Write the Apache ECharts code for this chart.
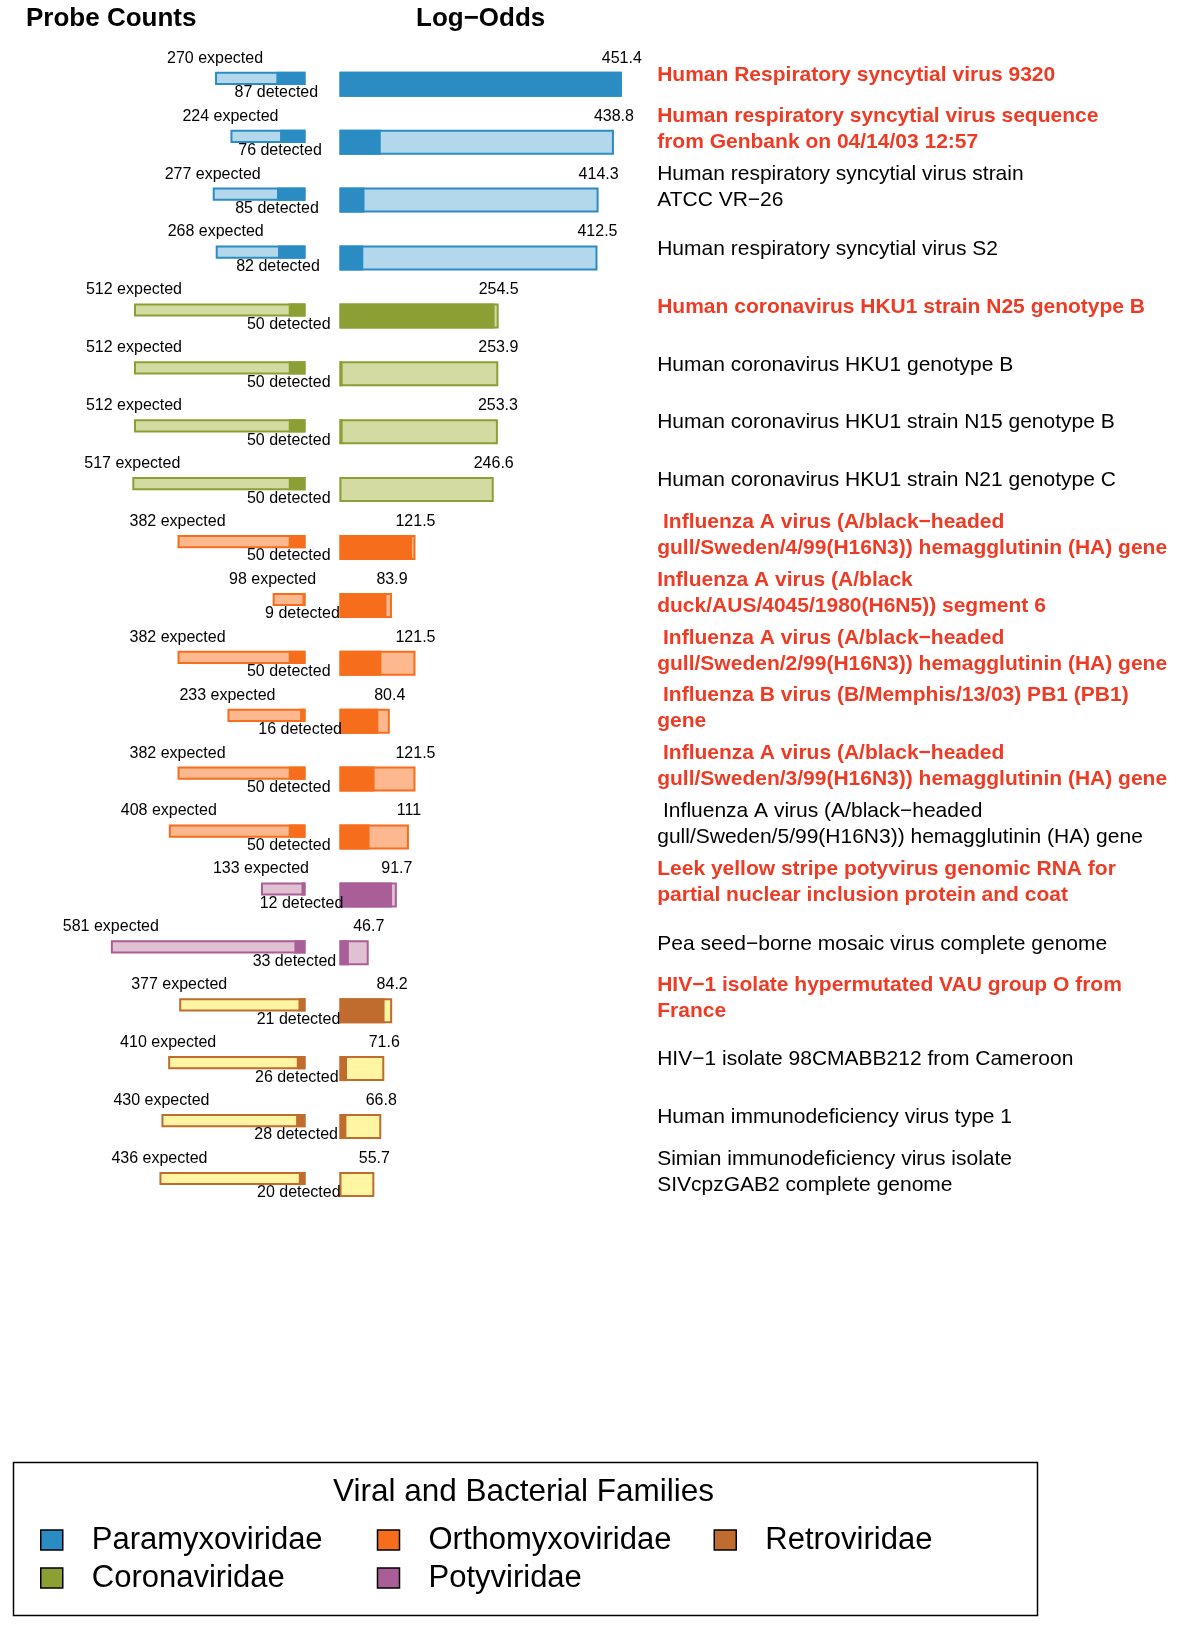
<!DOCTYPE html>
<html>
<head>
<meta charset="utf-8">
<title>Probe Counts and Log-Odds</title>
<script src="https://cdn.jsdelivr.net/npm/echarts@6/dist/echarts.min.js"></script>
<style>
  html, body { margin: 0; padding: 0; background: #fff; }
  #chart { width: 1200px; height: 1633px; }
</style>
</head>
<body>
<div id="chart"></div>
<script>
// one entry per row, top to bottom
const virusNames = [
  'Human Respiratory syncytial virus 9320',
  'Human respiratory syncytial virus sequence\nfrom Genbank on 04/14/03 12:57',
  'Human respiratory syncytial virus strain\nATCC VR\u221226',
  'Human respiratory syncytial virus S2',
  'Human coronavirus HKU1 strain N25 genotype B',
  'Human coronavirus HKU1 genotype B',
  'Human coronavirus HKU1 strain N15 genotype B',
  'Human coronavirus HKU1 strain N21 genotype C',
  ' Influenza A virus (A/black\u2212headed\ngull/Sweden/4/99(H16N3)) hemagglutinin (HA) gene',
  'Influenza A virus (A/black\nduck/AUS/4045/1980(H6N5)) segment 6',
  ' Influenza A virus (A/black\u2212headed\ngull/Sweden/2/99(H16N3)) hemagglutinin (HA) gene',
  ' Influenza B virus (B/Memphis/13/03) PB1 (PB1)\ngene',
  ' Influenza A virus (A/black\u2212headed\ngull/Sweden/3/99(H16N3)) hemagglutinin (HA) gene',
  ' Influenza A virus (A/black\u2212headed\ngull/Sweden/5/99(H16N3)) hemagglutinin (HA) gene',
  'Leek yellow stripe potyvirus genomic RNA for\npartial nuclear inclusion protein and coat',
  'Pea seed\u2212borne mosaic virus complete genome',
  'HIV\u22121 isolate hypermutated VAU group O from\nFrance',
  'HIV\u22121 isolate 98CMABB212 from Cameroon',
  'Human immunodeficiency virus type 1',
  'Simian immunodeficiency virus isolate\nSIVcpzGAB2 complete genome'
]
const highlighted = [1, 1, 0, 0, 1, 0, 0, 0, 1, 1, 1, 1, 1, 0, 1, 0, 1, 0, 0, 0]
const rowFamily = [
  'Paramyxoviridae', 'Paramyxoviridae', 'Paramyxoviridae', 'Paramyxoviridae',
  'Coronaviridae', 'Coronaviridae', 'Coronaviridae', 'Coronaviridae',
  'Orthomyxoviridae', 'Orthomyxoviridae', 'Orthomyxoviridae', 'Orthomyxoviridae', 'Orthomyxoviridae', 'Orthomyxoviridae',
  'Potyviridae', 'Potyviridae',
  'Retroviridae', 'Retroviridae', 'Retroviridae', 'Retroviridae'
]
const expectedProbes = [270, 224, 277, 268, 512, 512, 512, 517, 382, 98, 382, 233, 382, 408, 133, 581, 377, 410, 430, 436]
const detectedProbes = [87, 76, 85, 82, 50, 50, 50, 50, 50, 9, 50, 16, 50, 50, 12, 33, 21, 26, 28, 20]
const logOdds = [451.4, 438.8, 414.3, 412.5, 254.5, 253.9, 253.3, 246.6, 121.5, 83.9, 121.5, 80.4, 121.5, 111, 91.7, 46.7, 84.2, 71.6, 66.8, 55.7]
// dark share of each log-odds bar
const logOddsPart = [451.4, 66, 40, 38, 248, 5, 5, 0.5, 116, 75, 67, 62, 56, 48, 84, 15, 72, 12, 11, 1]

const familyOrder = ['Paramyxoviridae', 'Coronaviridae', 'Orthomyxoviridae', 'Potyviridae', 'Retroviridae']
const familyColors = {
  Paramyxoviridae: ['#2b8cc4', '#b3d8eb'],
  Coronaviridae: ['#8c9f35', '#d3dba2'],
  Orthomyxoviridae: ['#f66d1b', '#fdb88f'],
  Potyviridae: ['#a95e97', '#e0c1d2'],
  Retroviridae: ['#c06c2f', '#fff5a2']
}

const FONT = '"Liberation Sans", Arial, Helvetica, sans-serif'
const smallFont = '16px ' + FONT

const chart = echarts.init(document.getElementById('chart'))

function renderProbe(params, api) {
  const row = api.value(0)
  const exp = api.value(1)
  const det = api.value(2)
  const base = api.coord([0, row])
  const xe = api.coord([exp, row])[0]
  const xd = api.coord([det, row])[0]
  const band = api.size([0, 1])[1]
  const top = base[1] - band * 0.216
  const h = band * 0.228
  const c = familyColors[rowFamily[row]]
  return {
    type: 'group',
    children: [
      {type: 'rect', shape: {x: xe + 1, y: top + 1, width: base[0] - xe - 2, height: h - 2},
        style: {fill: c[1], stroke: c[0], lineWidth: 2}},
      {type: 'rect', shape: {x: xd, y: top, width: base[0] - xd, height: h}, style: {fill: c[0]}},
      {type: 'text', x: xe, y: base[1] - 26,
        style: {text: exp + ' expected', font: smallFont, fill: '#000', align: 'center', verticalAlign: 'middle'}},
      {type: 'text', x: xd, y: base[1] + 8.5,
        style: {text: det + ' detected', font: smallFont, fill: '#000', align: 'center', verticalAlign: 'middle'}}
    ]
  }
}

function renderOdds(params, api) {
  const row = api.value(0)
  const val = api.value(1)
  const part = api.value(2)
  const base = api.coord([0, row])
  const xv = api.coord([val, row])[0]
  const xp = api.coord([part, row])[0]
  const band = api.size([0, 1])[1]
  const h = band * 0.432
  const top = base[1] - h / 2
  const c = familyColors[rowFamily[row]]
  const name = virusNames[row]
  const twoLines = name.indexOf('\n') >= 0
  const red = highlighted[row] === 1
  return {
    type: 'group',
    children: [
      {type: 'rect', shape: {x: base[0] + 1, y: top + 1, width: xv - base[0] - 2, height: h - 2},
        style: {fill: c[1], stroke: c[0], lineWidth: 2}},
      {type: 'rect', shape: {x: base[0], y: top, width: xp - base[0], height: h}, style: {fill: c[0]}},
      {type: 'text', x: xv, y: base[1] - 26,
        style: {text: String(val), font: smallFont, fill: '#000', align: 'center', verticalAlign: 'middle'}},
      {type: 'text', x: params.coordSys.x + params.coordSys.width + 5, y: base[1] + (twoLines ? -12.5 : -9),
        style: {
          text: name,
          font: (red ? 'bold ' : '') + '21px ' + FONT,
          fill: red ? '#ef3b24' : '#000',
          lineHeight: 26,
          align: 'left',
          verticalAlign: 'middle'
        }}
    ]
  }
}

const series = []
familyOrder.forEach(function (fam) {
  const rows = []
  rowFamily.forEach(function (f, i) { if (f === fam) rows.push(i) })
  series.push({
    name: fam,
    type: 'custom',
    xAxisIndex: 0,
    yAxisIndex: 0,
    z: 3,
    itemStyle: {color: familyColors[fam][0]},
    encode: {x: 1, y: 0},
    renderItem: renderProbe,
    data: rows.map(function (i) { return [i, expectedProbes[i], detectedProbes[i]] })
  })
  series.push({
    name: fam,
    type: 'custom',
    xAxisIndex: 1,
    yAxisIndex: 1,
    z: 2,
    itemStyle: {color: familyColors[fam][0]},
    encode: {x: 1, y: 0},
    renderItem: renderOdds,
    data: rows.map(function (i) { return [i, logOdds[i], logOddsPart[i]] })
  })
})

const option = {
  animation: false,
  backgroundColor: '#fff',
  title: [
    {text: 'Probe Counts', left: 26, top: 6, padding: 0,
      textStyle: {fontFamily: FONT, fontSize: 26, fontWeight: 'bold', color: '#000'}},
    {text: 'Log\u2212Odds', left: 416, top: 6, padding: 0,
      textStyle: {fontFamily: FONT, fontSize: 26, fontWeight: 'bold', color: '#000'}},
    {text: 'Viral and Bacterial Families', left: 333, top: 1476, padding: 0,
      textStyle: {fontFamily: FONT, fontSize: 31.5, fontWeight: 'normal', color: '#000'}}
  ],
  grid: [
    {left: 4, width: 301.5, top: 55.35, height: 1158},
    {left: 339.5, width: 312.7, top: 55.35, height: 1158}
  ],
  xAxis: [
    {type: 'value', gridIndex: 0, min: 0, max: 900, inverse: true, show: false},
    {type: 'value', gridIndex: 1, min: 0, max: 500, show: false}
  ],
  yAxis: [
    {type: 'category', gridIndex: 0, data: virusNames, inverse: true, show: false},
    {type: 'category', gridIndex: 1, data: virusNames, inverse: true, show: false}
  ],
  legend: {
    left: 40,
    top: 1523,
    width: 1010,
    padding: 0,
    itemWidth: 22,
    itemHeight: 20,
    itemGap: 4,
    icon: 'rect',
    selectedMode: false,
    itemStyle: {borderColor: '#000', borderWidth: 1.5},
    textStyle: {fontFamily: FONT, fontSize: 31, color: '#000', width: 281, lineHeight: 34, padding: [0, 0, 0, 24]},
    data: ['Paramyxoviridae', 'Orthomyxoviridae', 'Retroviridae', 'Coronaviridae', 'Potyviridae']
  },
  graphic: [
    {type: 'rect', left: 11, top: 1460, z: 0,
      shape: {width: 1024, height: 153},
      style: {fill: 'none', stroke: '#000', lineWidth: 1.5}}
  ],
  series: series
}

chart.setOption(option)
</script>
</body>
</html>
